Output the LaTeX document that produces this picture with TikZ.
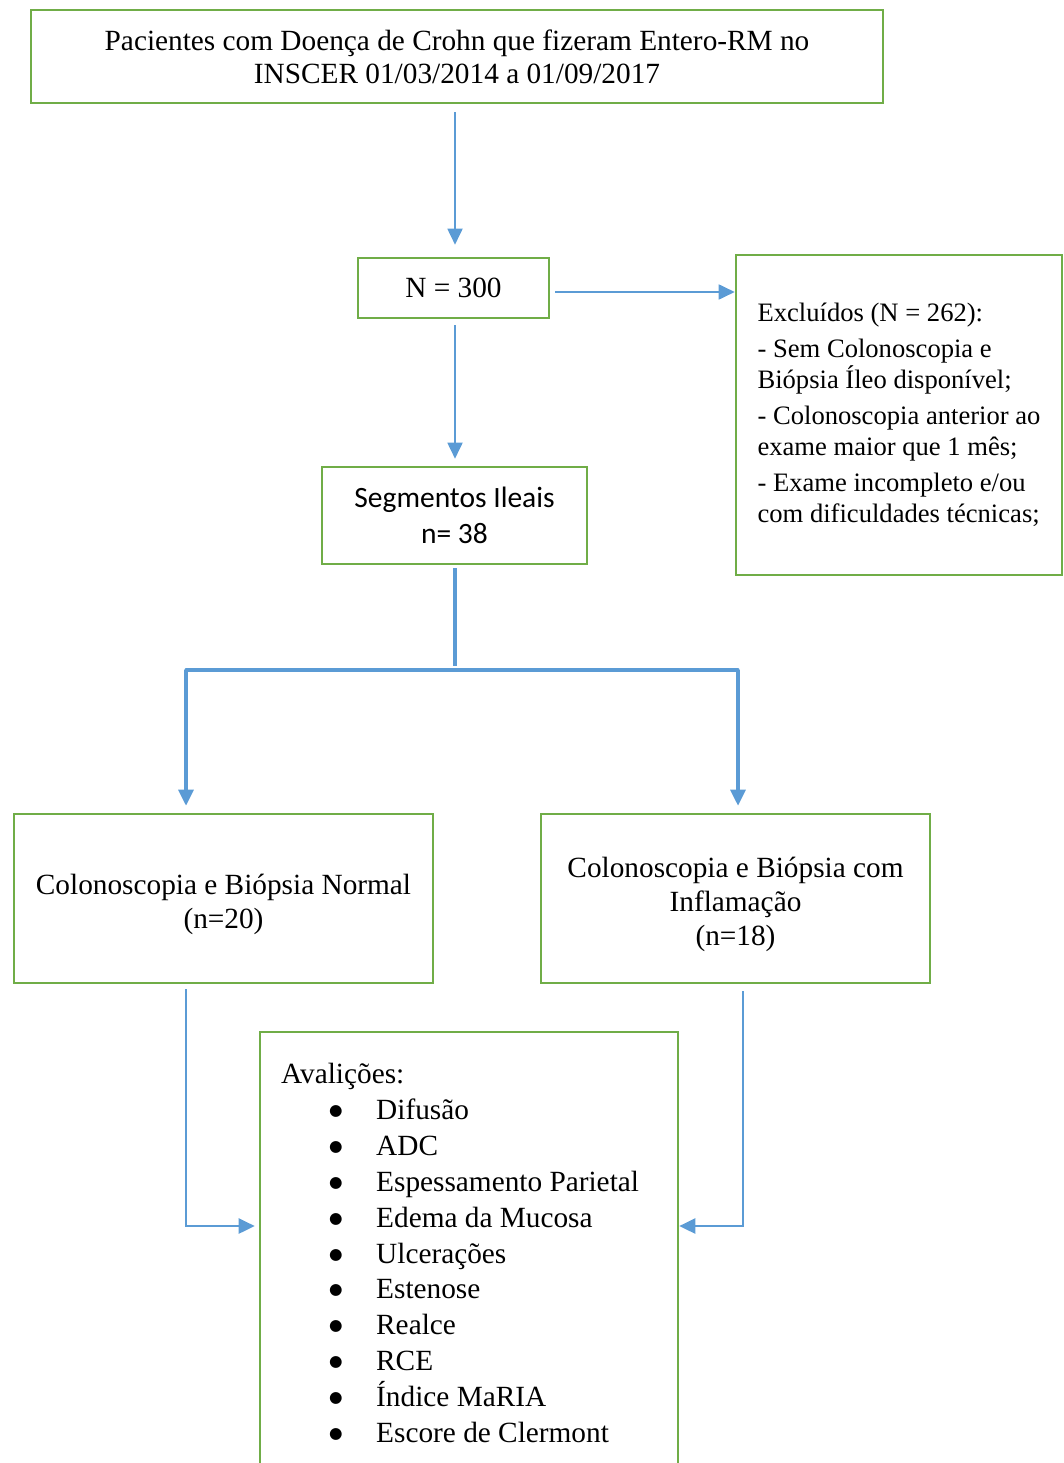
\documentclass[tikz,border=0pt]{standalone}
\usepackage{fontspec}
\setmainfont{Liberation Serif}
\newfontfamily\calibri{Carlito}
\newfontfamily\dejavu{DejaVu Sans}
\usetikzlibrary{arrows.meta}
\definecolor{boxgreen}{HTML}{70AD47}
\definecolor{arrblue}{HTML}{5B9BD5}
\newcommand{\bigbul}{\raisebox{4pt}{\dejavu\fontsize{15.5}{15.5}\selectfont ●}}
\newcommand{\litem}[1]{\hspace*{48pt}\makebox[47pt][l]{\bigbul}#1}
\begin{document}
\begin{tikzpicture}[x=1pt,y=-1pt,
  box/.style={draw=boxgreen,line width=2.6pt,rectangle,inner sep=0pt,align=center},
  boxtext/.style={inner sep=0pt,align=center,font=\fontsize{29.3}{34}\selectfont},
  conn/.style={draw=arrblue,line width=1.8pt,-{Triangle[length=16pt,width=15pt]}},
  thick conn/.style={draw=arrblue,line width=3.2pt},
  thick arr/.style={draw=arrblue,line width=3.2pt,-{Triangle[length=16pt,width=15pt]}},
  mid arr/.style={draw=arrblue,line width=2.6pt,-{Triangle[length=16pt,width=15pt]}},
  bigtext/.style={font=\fontsize{29.3}{33}\selectfont}
]
\useasboundingbox (0,0) rectangle (1064,1463);
\clip (0,0) rectangle (1064,1463);

\node[box,bigtext,minimum width=852pt,minimum height=93pt] (top) at (457,56.5)
  {Pacientes com Doença de Crohn que fizeram Entero-RM no\\INSCER 01/03/2014 a 01/09/2017};
\node[box,bigtext,minimum width=191pt,minimum height=60pt] (n300) at (453.5,288) {N = 300};
\node[box,minimum width=326pt,minimum height=320pt,align=left,
  font=\fontsize{26.6}{31}\selectfont] (excl) at (899,415)
  {Excluídos (N = 262):\\[5pt]
   - Sem Colonoscopia e\\Biópsia Íleo disponível;\\[5pt]
   - Colonoscopia anterior ao\\exame maior que 1 mês;\\[5pt]
   - Exame incompleto e/ou\\com dificuldades técnicas;};
\node[box,minimum width=265pt,minimum height=97pt,font=\calibri\fontsize{29.5}{36}\selectfont] (seg) at (454.5,515.5)
  {Segmentos Ileais\\n= 38};
\node[box,minimum width=419pt,minimum height=169pt] (normal) at (223.5,898.5) {};
\node[boxtext] (normaltext) at (223.5,904.5) {Colonoscopia e Biópsia Normal\\(n=20)};
\node[box,minimum width=389pt,minimum height=169pt] (infl) at (735.5,898.5) {};
\node[boxtext] (infltext) at (735.5,904) {Colonoscopia e Biópsia com\\Inflamação\\(n=18)};
\node[box,minimum width=418pt,minimum height=470pt] (aval) at (469,1267) {};
\node[anchor=north west,align=left,inner sep=0pt,font=\fontsize{29.3}{35.9}\selectfont] (avaltext) at (281,1063)
  {Avalições:\\
   \litem{Difusão}\\
   \litem{ADC}\\
   \litem{Espessamento Parietal}\\
   \litem{Edema da Mucosa}\\
   \litem{Ulcerações}\\
   \litem{Estenose}\\
   \litem{Realce}\\
   \litem{RCE}\\
   \litem{Índice MaRIA}\\
   \litem{Escore de Clermont}};

\coordinate (splitc) at (455,670);
\coordinate (splitl) at (186,670);
\coordinate (splitr) at (738,670);
\coordinate (lbend) at (186,1226);
\coordinate (rbend) at (743,1226);

\draw[conn] ([yshift=-8pt]top.south -| 455,0) -- ([yshift=12pt]n300.north -| 455,0);
\draw[conn] ([xshift=5pt]n300.east |- 0,292) -- (excl.west |- 0,292);
\draw[conn] ([yshift=-6pt]n300.south -| 455,0) -- ([yshift=7pt]seg.north -| 455,0);
\draw[thick conn] ([yshift=-3pt]seg.south -| 455,0) -- ([yshift=4pt]splitc);
\draw[thick arr] (splitl) -- ([yshift=7pt]normal.north -| splitl);
\draw[thick conn,line cap=round] (splitl) -- (splitr);
\draw[thick arr] (splitr) -- ([yshift=7pt]infl.north -| splitr);
\draw[mid arr] ([yshift=-5pt]normal.south -| lbend) -- (lbend) -- ([xshift=-4pt]aval.west |- lbend);
\draw[mid arr] ([yshift=-7pt]infl.south -| rbend) -- (rbend) -- (aval.east |- rbend);
\end{tikzpicture}
\end{document}
